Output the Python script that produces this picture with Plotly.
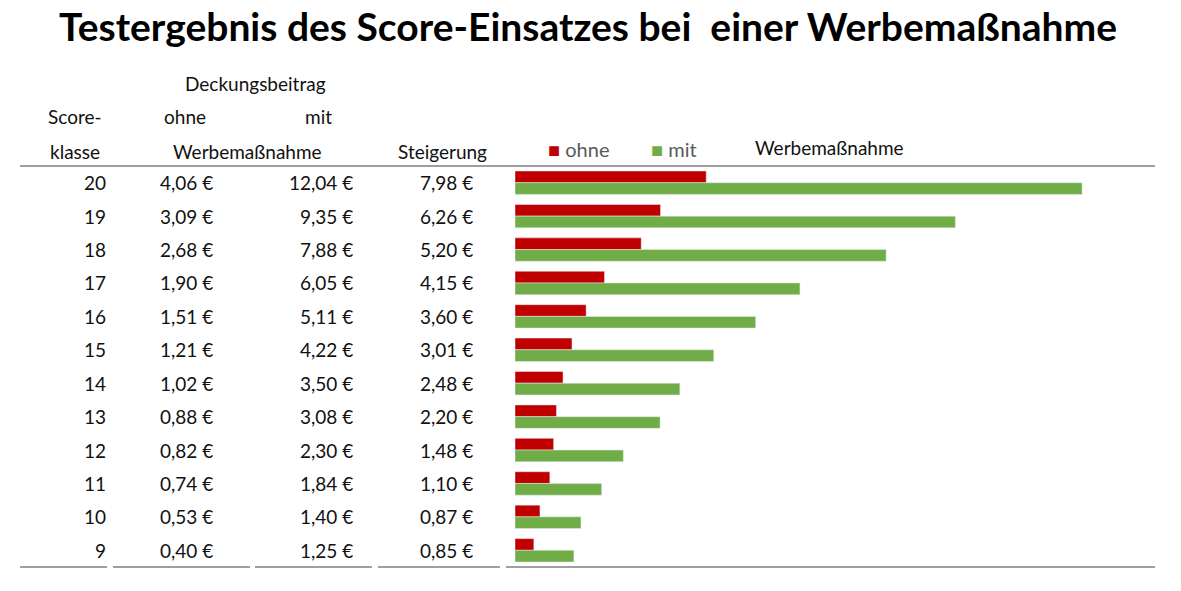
import plotly.graph_objects as go

klassen = ["20","19","18","17","16","15","14","13","12","11","10","9"]
ohne = [4.06,3.09,2.68,1.90,1.51,1.21,1.02,0.88,0.82,0.74,0.53,0.40]
mit = [12.04,9.35,7.88,6.05,5.11,4.22,3.50,3.08,2.30,1.84,1.40,1.25]
steig = [7.98,6.26,5.20,4.15,3.60,3.01,2.48,2.20,1.48,1.10,0.87,0.85]

W, H = 1181, 591
OFF = 8
RED, GREEN = "#C00000", "#70AD47"
FONT = "Lato"

def px(x): return (x - OFF) / W
def py(y): return 1 - (y - OFF) / H

fig = go.Figure()
fig.add_bar(y=klassen, x=ohne, orientation="h", marker_color=RED, name="ohne", showlegend=False)
fig.add_bar(y=klassen, x=mit, orientation="h", marker_color=GREEN, name="mit", showlegend=False)

def eur(v): return f"{v:.2f} €".replace(".", ",")

ann = []
for i, k in enumerate(klassen):
    for x, t in [(108, k), (215, eur(ohne[i])), (355, eur(mit[i])), (475, eur(steig[i]))]:
        ann.append(dict(x=px(x), y=i, xref="paper", yref="y", text=t, showarrow=False,
                        xanchor="right", yanchor="middle", font=dict(size=19, family=FONT, color="#111")))
hdr = [("Score-", 75, 117), ("klasse", 75, 151), ("Deckungsbeitrag", 255, 83), ("ohne", 185, 117),
       ("mit", 318, 117), ("Werbemaßnahme", 247, 151), ("Steigerung", 442, 151),
       ("Werbemaßnahme", 829, 148)]
for t, x, y in hdr:
    ann.append(dict(x=px(x), y=py(y), xref="paper", yref="paper", text=t, showarrow=False,
                    xanchor="center", yanchor="middle", font=dict(size=19, family=FONT, color="#111")))
ann.append(dict(x=px(546), y=py(149), xref="paper", yref="paper", showarrow=False, xanchor="left",
                yanchor="middle", text=f"<span style='color:{RED}'>■</span> <span style='color:#595959'>ohne</span>",
                font=dict(size=20, family=FONT)))
ann.append(dict(x=px(649), y=py(149), xref="paper", yref="paper", showarrow=False, xanchor="left",
                yanchor="middle", text=f"<span style='color:{GREEN}'>■</span> <span style='color:#595959'>mit</span>",
                font=dict(size=20, family=FONT)))

shapes = [dict(type="line", xref="paper", yref="paper", x0=px(20), x1=px(1155), y0=py(166), y1=py(166),
               line=dict(color="#7f7f7f", width=1.3))]
for a, b in [(20, 107), (113, 250), (255, 372), (378, 500), (506, 1155)]:
    shapes.append(dict(type="line", xref="paper", yref="paper", x0=px(a), x1=px(b), y0=py(567), y1=py(567),
                       line=dict(color="#7f7f7f", width=1.3)))

fig.update_layout(
    width=W, height=H, margin=dict(l=0, r=0, t=0, b=0),
    plot_bgcolor="white", paper_bgcolor="white",
    barmode="group", bargap=0.3, bargroupgap=0.0,
    title=dict(text="<b>Testergebnis des Score-Einsatzes bei  einer Werbemaßnahme</b>",
               x=px(588), xanchor="center", y=py(27), yanchor="middle",
               font=dict(size=39, family=FONT, color="black")),
    xaxis=dict(domain=[px(515), px(1155)], range=[0, 640 / 47.1], visible=False),
    yaxis=dict(domain=[py(567), py(166)], type="category", range=[11.5, -0.5], visible=False),
    annotations=ann, shapes=shapes,
)
fig.write_html("out.html")
